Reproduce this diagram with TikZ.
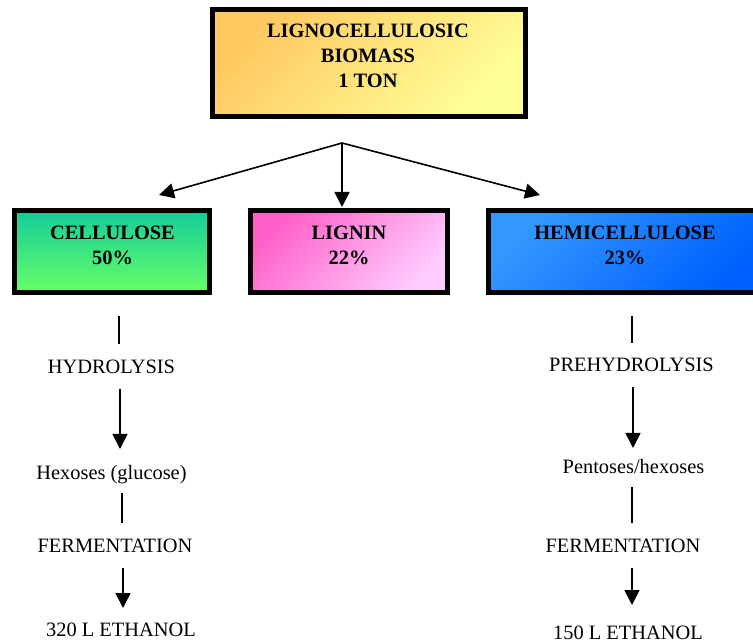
\documentclass[tikz,border=0pt]{standalone}
\usepackage{fontspec}
\setmainfont{Liberation Serif}
\usetikzlibrary{arrows.meta}
\definecolor{bioA}{HTML}{FFC860}
\definecolor{bioB}{HTML}{FFFF99}
\definecolor{celA}{HTML}{14CC99}
\definecolor{celB}{HTML}{66FF66}
\definecolor{ligA}{HTML}{FF60C8}
\definecolor{ligB}{HTML}{FFCCFF}
\definecolor{hemA}{HTML}{3399FF}
\definecolor{hemB}{HTML}{0060FF}
\begin{document}
\begin{tikzpicture}[x=1pt,y=-1pt,
  box/.style={draw=black, line width=4.5pt, rectangle, inner sep=0pt},
  lbl/.style={font=\fontsize{20.4}{25}\selectfont, align=center, inner sep=0pt},
  blbl/.style={font=\bfseries\fontsize{20.4}{25}\selectfont, align=center, inner sep=0pt},
  arr/.style={line width=1.6pt, -{Triangle[length=15pt,width=15pt]}},
  ln/.style={line width=1.6pt}]
\clip (0,0) rectangle (753,644);
% boxes
\node[box, minimum width=313pt, minimum height=107pt,
      top color=bioA, bottom color=bioB, shading angle=45] (bio) at (369,63) {};
\node[box, minimum width=195pt, minimum height=82pt,
      top color=celA, bottom color=celB] (cel) at (112,251.5) {};
\node[box, minimum width=197pt, minimum height=82pt,
      top color=ligA, bottom color=ligB, shading angle=45] (lig) at (349,251.5) {};
\node[box, minimum width=273pt, minimum height=82pt,
      top color=hemA, bottom color=hemB, shading angle=45] (hem) at (625,251.5) {};
% box texts
\node[blbl] (biot) at (368,56.3) {LIGNOCELLULOSIC\\BIOMASS\\1 TON};
\node[blbl] (celt) at (112.5,245.5) {CELLULOSE\\50\%};
\node[blbl] (ligt) at (349,245.5) {LIGNIN\\22\%};
\node[blbl] (hemt) at (625,245.5) {HEMICELLULOSE\\23\%};
% top arrows
\coordinate (J) at (342,143);
\coordinate (tL) at (159,195);
\coordinate (tC) at (342,207);
\coordinate (tR) at (540,195);
\draw[arr] (J) -- (tL);
\draw[arr] (J) -- (tC);
\draw[arr] (J) -- (tR);
% left chain
\node[lbl, anchor=base] (hyd) at (111.5,374) {HYDROLYSIS};
\node[lbl, anchor=base] (hex) at (111.5,479) {Hexoses (glucose)};
\node[lbl, anchor=base] (ferL) at (115,552) {FERMENTATION};
\node[lbl, anchor=base] (ethL) at (121,636.5) {320 L ETHANOL};
\coordinate (l1a) at (119,316); \coordinate (l1b) at (119,344);
\coordinate (l2a) at (120,389); \coordinate (l2b) at (120,449);
\coordinate (l3a) at (122,493); \coordinate (l3b) at (122,523);
\coordinate (l4a) at (123,568); \coordinate (l4b) at (123,608);
\draw[ln] (l1a) -- (l1b);
\draw[arr] (l2a) -- (l2b);
\draw[ln] (l3a) -- (l3b);
\draw[arr] (l4a) -- (l4b);
% right chain
\node[lbl, anchor=base] (pre) at (631.5,372) {PREHYDROLYSIS};
\node[lbl, anchor=base] (pen) at (633.5,473) {Pentoses/hexoses};
\node[lbl, anchor=base] (ferR) at (623,552) {FERMENTATION};
\node[lbl, anchor=base] (ethR) at (628,639) {150 L ETHANOL};
\coordinate (r1a) at (632,316); \coordinate (r1b) at (632,343);
\coordinate (r2a) at (633,387); \coordinate (r2b) at (633,448);
\coordinate (r3a) at (632,487); \coordinate (r3b) at (632,523);
\coordinate (r4a) at (632,568); \coordinate (r4b) at (632,605);
\draw[ln] (r1a) -- (r1b);
\draw[arr] (r2a) -- (r2b);
\draw[ln] (r3a) -- (r3b);
\draw[arr] (r4a) -- (r4b);
\end{tikzpicture}
\end{document}
